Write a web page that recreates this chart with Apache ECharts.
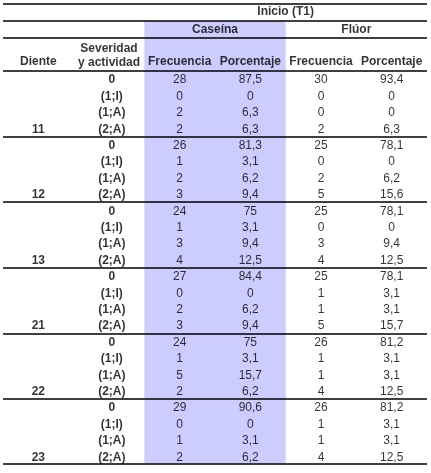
<!DOCTYPE html>
<html><head><meta charset="utf-8">
<script src="https://cdn.jsdelivr.net/npm/echarts@6/dist/echarts.min.js"></script>
<style>html,body{margin:0;padding:0;background:#fff}#c{width:431px;height:473px}</style>
</head><body><div id="c"></div>
<script>
const teeth = ['11','12','13','21','22','23'];
const severities = ['0','(1;I)','(1;A)','(2;A)'];
const casFreq = ['28','0','2','2','26','1','2','3','24','1','3','4','27','0','2','3','24','1','5','2','29','0','1','2'];
const casPct  = ['87,5','0','6,3','6,3','81,3','3,1','6,2','9,4','75','3,1','9,4','12,5','84,4','0','6,2','9,4','75','3,1','15,7','6,2','90,6','0','3,1','6,2'];
const fluFreq = ['30','0','0','2','25','0','2','5','25','0','3','4','25','1','1','5','26','1','1','4','26','1','1','4'];
const fluPct  = ['93,4','0','0','6,3','78,1','0','6,2','15,6','78,1','0','9,4','12,5','78,1','3,1','3,1','15,7','81,2','3,1','3,1','12,5','81,2','3,1','3,1','12,5'];
const headTop = 'Inicio (T1)';
const groups = ['Caseína','Flúor'];
const colHeads = ['Diente','Severidad\ny actividad','Frecuencia','Porcentaje','Frecuencia','Porcentaje'];

const font = 'Liberation Sans, Arial, sans-serif';
const bodyData = [], headData = [];
for (let i = 0; i < 24; i++) {
  headData.push({value:[1.54, i], name: severities[i % 4]});
  if (i % 4 === 3) headData.push({value:[0.5, i], name: teeth[(i - 3) / 4]});
  bodyData.push({value:[2.5, i], name: casFreq[i]});
  bodyData.push({value:[3.5, i], name: casPct[i]});
  bodyData.push({value:[4.5, i], name: fluFreq[i]});
  bodyData.push({value:[5.5, i], name: fluPct[i]});
}
headData.push({value:[4.0, -4.15], name: headTop});
headData.push({value:[3.0, -3.1], name: groups[0]});
headData.push({value:[5.0, -3.1], name: groups[1]});
colHeads.forEach((h, c) => headData.push({value:[c === 1 ? 1.5 : c + 0.5, c === 1 ? -1.5 : -1.1], name: h}));

const lines = [-4.63, -3.6, -2.56, -0.55, 3.45, 7.45, 11.45, 15.45, 19.45, 23.4].map(v => ({yAxis: v}));

const chart = echarts.init(document.getElementById('c'));
chart.setOption({
  animation: false,
  grid: {left: 3, right: 4, top: 0, bottom: 0},
  xAxis: {type: 'value', min: 0, max: 6, show: false},
  yAxis: {type: 'value', min: -4.88, max: 23.96, inverse: true, show: false},
  series: [
    {
      type: 'scatter', symbolSize: 0, data: bodyData, z: 5,
      label: {show: true, position: 'inside', formatter: p => p.name, color: '#000', fontFamily: font, fontSize: 12},
      markArea: {silent: true, itemStyle: {color: '#ccccff'}, data: [[{xAxis: 2, yAxis: -3.6}, {xAxis: 4, yAxis: 23.4}]]},
      markLine: {silent: true, symbol: 'none', label: {show: false}, lineStyle: {color: '#000', width: 1.5, type: 'solid'}, data: lines}
    },
    {
      type: 'scatter', symbolSize: 0, data: headData, z: 5,
      label: {show: true, position: 'inside', formatter: p => p.name, color: '#000', fontFamily: font, fontSize: 12, fontWeight: 'bold', lineHeight: 14}
    }
  ]
});
</script></body></html>
